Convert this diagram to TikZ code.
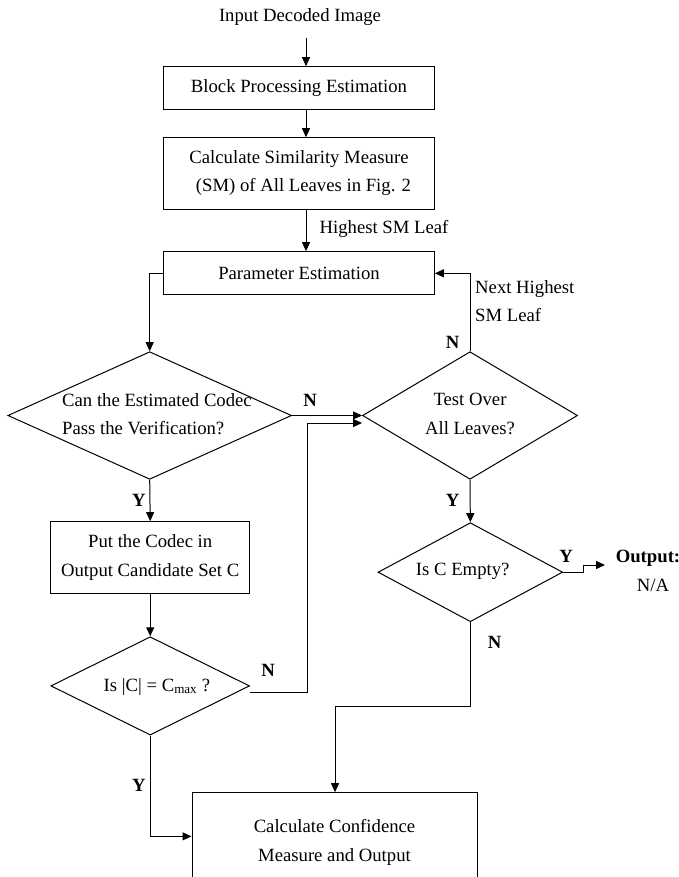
\documentclass[tikz,border=0pt]{standalone}
\usepackage{fontspec}
\setmainfont{Liberation Serif}
\usetikzlibrary{shapes.geometric,arrows.meta}
\tikzset{
  box/.style={draw, line width=1pt, inner sep=0pt, align=center},
  dia/.style={draw, diamond, line width=1pt, inner sep=0pt},
  arr/.style={draw, line width=1pt, -{Triangle[length=9pt,width=8pt]}},
  conn/.style={draw, line width=1pt},
  lbl/.style={font=\fontsize{18.7}{28.2}\selectfont\bfseries},
  txt/.style={align=center, inner sep=0pt}
}
\begin{document}
\begin{tikzpicture}[x=1pt,y=-1pt,font=\fontsize{18.7}{28.2}\selectfont]
\useasboundingbox (0,0) rectangle (679,877);
\clip (0,0) rectangle (679,877);
% boxes
\node[txt] (in) at (300,17) {Input Decoded Image};
\node[box, minimum width=270.7pt, minimum height=42.6pt] (b1) at (299,88) {Block Processing Estimation};
\node[box, minimum width=270.7pt, minimum height=71.3pt] (b2) at (299,173.4) {Calculate Similarity Measure\\\hspace*{9pt}(SM) of All Leaves in Fig. 2};
\node[box, minimum width=270.7pt, minimum height=43.3pt] (b3) at (299,273.3) {Parameter Estimation};
\node[box, minimum width=198.7pt, minimum height=71.6pt] (b4) at (150.2,557.5) {Put the Codec in\\Output Candidate Set C};
\node[box, minimum width=285pt, minimum height=99.3pt] (b5) at (334.5,842.35) {Calculate Confidence\\Measure and Output};
% diamonds
\node[dia, minimum width=283.7pt, minimum height=127.6pt] (d1) at (149.7,415.5) {};
\node[txt, align=left, anchor=west] (d1t) at (62,414) {Can the Estimated Codec\\Pass the Verification?};
\node[dia, minimum width=215pt, minimum height=127.6pt] (d2) at (470,415.5) {};
\node[txt] (d2t) at (470,414) {Test Over\\All Leaves?};
\node[dia, minimum width=184.7pt, minimum height=99pt] (d3) at (470.35,572.2) {};
\node[txt] (d3t) at (462.7,571.7) {Is C Empty?};
\node[dia, minimum width=198.7pt, minimum height=98.3pt] (d4) at (150.2,685.9) {};
\node[txt] (d4t) at (157,686.7) {Is |C| = C\textsubscript{max} ?};
% helper coordinates
\coordinate (inarr) at (306,38);
\coordinate (jx) at (307,423);
\coordinate (os) at (583.5,565);
\coordinate (oend) at (605,565);
\coordinate (k) at (335,706.7);
% connectors
\draw[arr] (inarr) -- (b1.north -| inarr);
\draw[arr] (b1.south -| inarr) -- (b2.north -| inarr);
\draw[arr] (b2.south -| inarr) -- (b3.north -| inarr);
\draw[arr] (b3.west) -| (d1.north);
\draw[arr] (d1.east) -- (d2.west);
\draw[arr] (d1.south) -- (b4.north);
\draw[arr] (b4.south) -- (d4.north);
\draw[arr] ([yshift=-7pt]d4.east) -| (jx) -- (jx -| d2.west);
\draw[arr] (d2.north) |- (b3.east);
\draw[arr] (d2.south) -- (d3.north);
\draw[arr] (d3.east) -| (os) -- (oend);
\draw[arr] (d3.south) |- (k) -- (b5.north -| k);
\draw[arr] (d4.south) |- ([yshift=6pt]b5.west);
% labels
\node[txt] (lhs) at (384,229) {Highest SM Leaf};
\node[txt, align=left, anchor=west] (lnh) at (475,301) {Next Highest\\SM Leaf};
\node[lbl, inner sep=0pt] (n1) at (310,400) {N};
\node[lbl, inner sep=0pt] (n2) at (452.5,342.7) {N};
\node[lbl, inner sep=0pt] (n3) at (268,670.7) {N};
\node[lbl, inner sep=0pt] (n4) at (494.6,642.7) {N};
\node[lbl, inner sep=0pt] (y1) at (139,500) {Y};
\node[lbl, inner sep=0pt] (y2) at (452.5,500) {Y};
\node[lbl, inner sep=0pt] (y3) at (566,556.7) {Y};
\node[lbl, inner sep=0pt] (y4) at (139,785) {Y};
\node[lbl, inner sep=0pt] (outl) at (648,558) {Output:};
\node[txt] (na) at (653,585) {N/A};
\end{tikzpicture}
\end{document}
